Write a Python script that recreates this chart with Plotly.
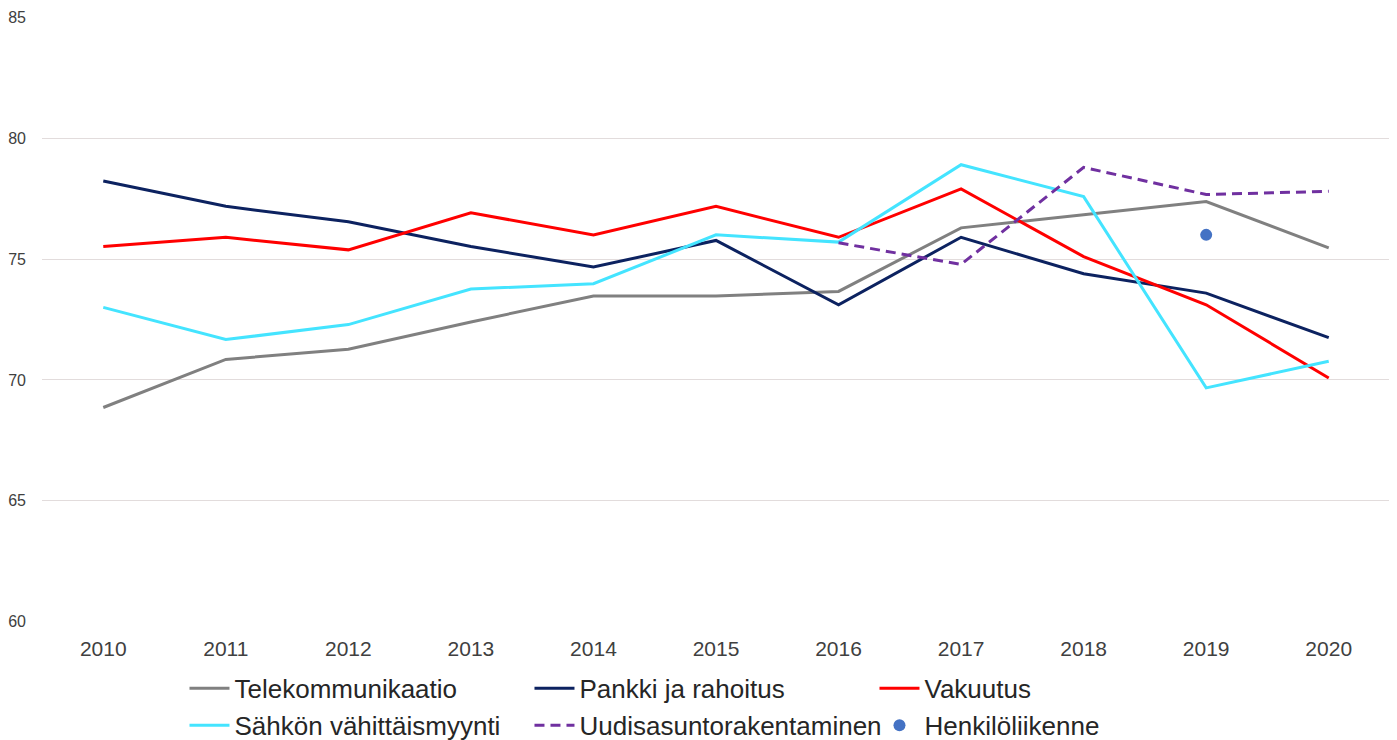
import plotly.graph_objects as go

years = ["2010", "2011", "2012", "2013", "2014", "2015", "2016", "2017", "2018", "2019", "2020"]
telekom = [68.86, 70.85, 71.27, 72.4, 73.47, 73.47, 73.66, 76.29, 76.83, 77.38, 75.46]
pankki = [78.23, 77.18, 76.54, 75.52, 74.67, 75.77, 73.11, 75.9, 74.39, 73.59, 71.75]
vakuutus = [75.52, 75.9, 75.38, 76.91, 76.0, 77.18, 75.9, 77.9, 75.1, 73.11, 70.08]
sahko = [73.0, 71.67, 72.29, 73.76, 73.98, 76.0, 75.7, 78.9, 77.58, 69.67, 70.77]
uudis = [None, None, None, None, None, None, 75.67, 74.78, 78.79, 77.67, 77.8]
henkilo = [None, None, None, None, None, None, None, None, None, 76.0, None]
y_ticks = [60, 65, 70, 75, 80, 85]

fig = go.Figure()
fig.add_trace(go.Scatter(x=years, y=telekom, mode="lines", name="Telekommunikaatio",
                         line=dict(color="#808080", width=3)))
fig.add_trace(go.Scatter(x=years, y=pankki, mode="lines", name="Pankki ja rahoitus",
                         line=dict(color="#0c2260", width=3)))
fig.add_trace(go.Scatter(x=years, y=vakuutus, mode="lines", name="Vakuutus",
                         line=dict(color="#ff0000", width=3)))
fig.add_trace(go.Scatter(x=years, y=sahko, mode="lines", name="Sähkön vähittäismyynti",
                         line=dict(color="#44e4ff", width=3)))
fig.add_trace(go.Scatter(x=years, y=uudis, mode="lines", name="Uudisasuntorakentaminen",
                         line=dict(color="#7030a0", width=3, dash="10px,6px")))
fig.add_trace(go.Scatter(x=years, y=henkilo, mode="markers", name="Henkilöliikenne",
                         marker=dict(color="#4472c4", size=12)))

fig.update_layout(
    width=1389, height=732,
    margin=dict(l=34, r=7, t=9, b=118, autoexpand=False),
    plot_bgcolor="white", paper_bgcolor="white",
    font=dict(family="Liberation Sans, Arial, sans-serif", color="#595959"),
    showlegend=True,
    legend=dict(orientation="h", x=0.1057, xanchor="left", y=-0.071, yanchor="top",
                entrywidth=290, entrywidthmode="pixels",
                font=dict(size=26, color="#262626"), tracegroupgap=0,
                itemwidth=40),
    xaxis=dict(type="category", range=[-0.5, 10.5], showgrid=False, showline=False,
               ticks="", tickfont=dict(size=21, color="#404040"), ticklabelstandoff=12,
               automargin=False),
    yaxis=dict(range=[59.99, 85.01], tickvals=y_ticks, showgrid=True, gridcolor="#e2dcdc",
               gridwidth=1, zeroline=False, showline=False, ticks="",
               tickfont=dict(size=16, color="#404040"), ticklabelstandoff=15,
               automargin=False),
)

fig.write_html("out.html")
